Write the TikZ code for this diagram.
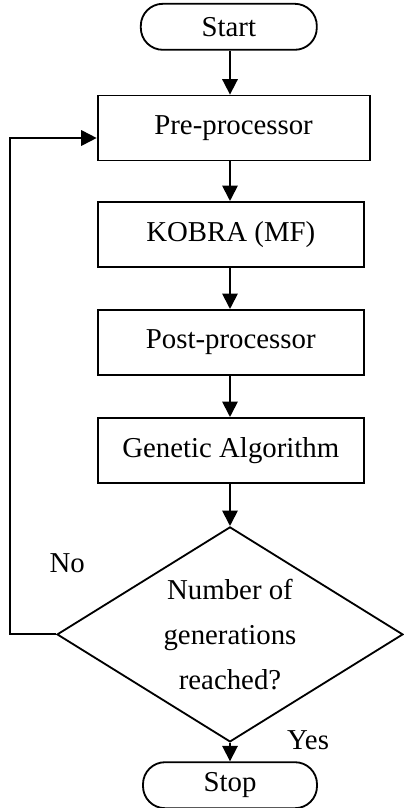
\documentclass[tikz,border=0pt]{standalone}
\usepackage{fontspec}
\setmainfont{Liberation Serif}
\usepackage{tikz}
\usetikzlibrary{shapes.geometric, arrows.meta}

\tikzset{
    flow/.style={line width=1.3pt, -{Triangle[length=11pt,width=11pt]}},
    procbox/.style={draw, line width=1.3pt, minimum width=6.65cm, minimum height=1.625cm},
    termbox/.style={draw, line width=1.3pt, rounded corners=0.55cm, minimum height=1.15cm},
    decision/.style={draw, diamond, line width=1.3pt, inner sep=0pt, aspect=1.61,
        minimum width=8.65cm, minimum height=5.375cm, align=center}
}

\begin{document}
\begin{tikzpicture}[font=\fontsize{20.5}{32}\selectfont]
    \useasboundingbox (0, 0) rectangle (10.1, -20.2);

    % Terminals
    \node[termbox, minimum width=4.4cm] (start) at (5.72, -0.67) {Start};
    \node[termbox, minimum width=4.35cm] (stop) at (5.75, -19.63) {Stop};

    % Processing steps
    \node[procbox, minimum width=6.8cm] (pre) at (5.84, -3.2) {Pre-processor};
    \node[procbox] (kobra) at (5.77, -5.86) {KOBRA (MF)};
    \node[procbox] (post) at (5.77, -8.56) {Post-processor};
    \node[procbox] (ga) at (5.77, -11.26) {Genetic Algorithm};

    % Test
    \node[decision] (test) at (5.75, -15.86) {Number of\\generations\\reached?};

    % Flow
    \coordinate (axis) at (5.75, 0);
    \draw[flow] (axis |- start.south) -- (axis |- pre.north);
    \draw[flow] (axis |- pre.south) -- (axis |- kobra.north);
    \draw[flow] (axis |- kobra.south) -- (axis |- post.north);
    \draw[flow] (axis |- post.south) -- (axis |- ga.north);
    \draw[flow] (axis |- ga.south) -- (test.north);
    \draw[flow] (test.south) -- (stop.north);

    % Loop back
    \coordinate (back) at (0.25, -3.45);
    \draw[flow] (test.west) -| (back) -- (back -| pre.west);

    \node (no) at (1.68, -14.08) {No};
    \node (yes) at (7.7, -18.5) {Yes};
\end{tikzpicture}
\end{document}
